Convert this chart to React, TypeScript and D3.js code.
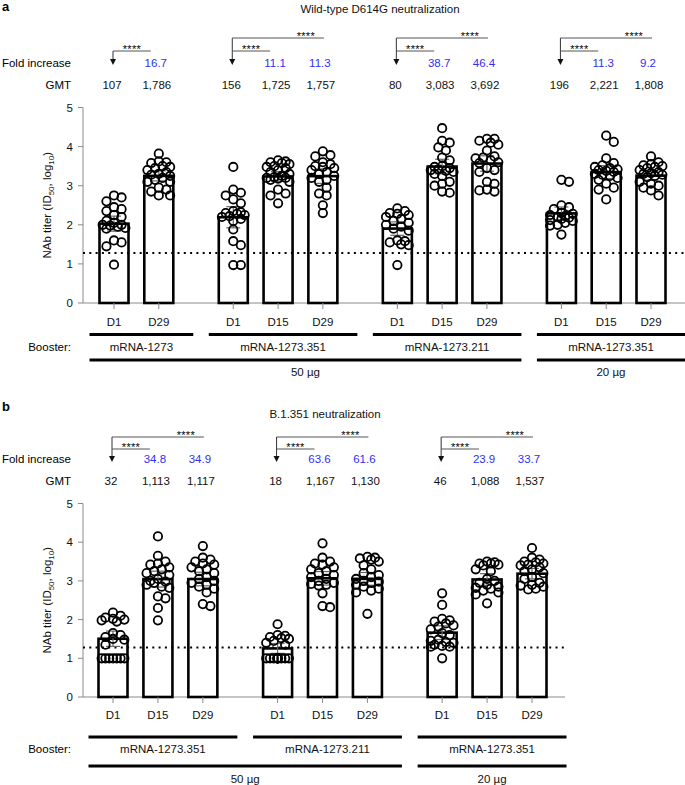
import React from 'react';
import * as d3 from 'd3';

const FONT = "'Liberation Sans', Arial, Helvetica, sans-serif";
const BLUE = '#2f2ff5';
const GREY = '#8a8a8a';

// ---- panel a : wild-type D614G ----
const aGroups = ['mRNA-1273', 'mRNA-1273.351', 'mRNA-1273.211', 'mRNA-1273.351'];
const aDays = [['D1', 'D29'], ['D1', 'D15', 'D29'], ['D1', 'D15', 'D29'], ['D1', 'D15', 'D29']];
const aGMT = [[107, 1786], [156, 1725, 1757], [80, 3083, 3692], [196, 2221, 1808]];
const aFold = [['16.7'], ['11.1', '11.3'], ['38.7', '46.4'], ['11.3', '9.2']];
const aDoseLabels = ['50 µg', '20 µg'];
const aDoseSpans = [[0, 2], [3, 3]];
const aPoints = [
  [2.75, 2.7, 2.6, 2.45, 2.4, 2.35, 2.25, 2.2, 2.1, 2.05, 2.0, 2.0, 1.98, 1.95, 1.92, 1.9, 1.6, 1.55, 1.45, 0.98],
  [3.82, 3.62, 3.6, 3.58, 3.5, 3.48, 3.45, 3.4, 3.35, 3.3, 3.28, 3.25, 3.2, 3.15, 3.1, 3.1, 2.95, 2.9, 2.85, 2.75, 2.75],
  [3.48, 2.9, 2.82, 2.75, 2.65, 2.55, 2.35, 2.32, 2.3, 2.28, 2.25, 2.22, 2.2, 2.15, 2.1, 1.88, 1.58, 1.48, 0.97, 0.97],
  [3.65, 3.62, 3.6, 3.58, 3.55, 3.5, 3.48, 3.45, 3.4, 3.35, 3.3, 3.25, 3.22, 3.2, 3.2, 3.18, 3.15, 3.1, 2.9, 2.8, 2.75, 2.55],
  [3.88, 3.78, 3.75, 3.6, 3.55, 3.5, 3.48, 3.45, 3.4, 3.35, 3.3, 3.25, 3.2, 3.15, 3.1, 2.95, 2.8, 2.75, 2.5, 2.3],
  [2.42, 2.35, 2.3, 2.28, 2.25, 2.2, 2.15, 2.1, 2.05, 2.0, 1.95, 1.9, 1.85, 1.6, 1.58, 1.55, 1.5, 1.48, 0.97],
  [4.47, 4.15, 4.1, 3.98, 3.9, 3.72, 3.65, 3.5, 3.48, 3.45, 3.42, 3.4, 3.38, 3.35, 3.3, 3.25, 3.1, 3.05, 3.0, 2.85, 2.82],
  [4.2, 4.2, 4.15, 4.1, 4.05, 3.9, 3.75, 3.72, 3.7, 3.65, 3.6, 3.58, 3.45, 3.4, 3.35, 3.1, 3.05, 2.9, 2.88, 2.85],
  [3.15, 3.1, 2.5, 2.45, 2.4, 2.3, 2.28, 2.25, 2.22, 2.2, 2.18, 2.15, 2.12, 2.1, 2.05, 2.0, 1.98, 1.75],
  [4.28, 4.12, 3.7, 3.58, 3.52, 3.48, 3.45, 3.42, 3.4, 3.38, 3.35, 3.3, 3.28, 3.25, 3.2, 3.15, 3.05, 2.95, 2.9, 2.65],
  [3.75, 3.6, 3.55, 3.52, 3.5, 3.48, 3.45, 3.4, 3.35, 3.32, 3.3, 3.28, 3.25, 3.22, 3.1, 3.05, 3.0, 2.95, 2.88, 2.75],
];

// ---- panel b : B.1.351 ----
const bGroups = ['mRNA-1273.351', 'mRNA-1273.211', 'mRNA-1273.351'];
const bDays = [['D1', 'D15', 'D29'], ['D1', 'D15', 'D29'], ['D1', 'D15', 'D29']];
const bGMT = [[32, 1113, 1117], [18, 1167, 1130], [46, 1088, 1537]];
const bFold = [['34.8', '34.9'], ['63.6', '61.6'], ['23.9', '33.7']];
const bDoseLabels = ['50 µg', '20 µg'];
const bDoseSpans = [[0, 1], [2, 2]];
const bPoints = [
  [2.18, 2.1, 2.05, 2.02, 2.0, 1.98, 1.95, 1.65, 1.6, 1.55, 1.5, 1.48, 1.35, 1.0, 1.0, 1.0, 1.0, 1.0, 1.0, 1.0],
  [4.15, 3.65, 3.5, 3.45, 3.42, 3.35, 3.3, 3.25, 3.2, 3.15, 3.05, 3.0, 2.98, 2.95, 2.9, 2.85, 2.82, 2.6, 2.55, 2.3, 1.98],
  [3.9, 3.6, 3.55, 3.5, 3.45, 3.42, 3.35, 3.3, 3.25, 3.2, 3.1, 3.05, 3.0, 2.95, 2.9, 2.85, 2.8, 2.7, 2.4, 2.35],
  [1.88, 1.6, 1.58, 1.55, 1.52, 1.5, 1.45, 1.4, 1.35, 1.0, 1.0, 1.0, 1.0, 1.0, 1.0, 1.0, 1.0, 1.0, 1.0, 1.0],
  [3.97, 3.6, 3.5, 3.45, 3.42, 3.35, 3.3, 3.25, 3.2, 3.15, 3.1, 3.05, 3.0, 2.95, 2.92, 2.9, 2.88, 2.68, 2.35, 2.32],
  [3.62, 3.6, 3.58, 3.55, 3.5, 3.4, 3.3, 3.2, 3.15, 3.1, 3.05, 3.0, 2.98, 2.95, 2.9, 2.85, 2.8, 2.75, 2.7, 2.15],
  [2.68, 2.38, 2.02, 1.98, 1.95, 1.9, 1.85, 1.82, 1.75, 1.65, 1.6, 1.48, 1.45, 1.42, 1.4, 1.35, 1.32, 1.3, 1.3, 1.0],
  [3.5, 3.48, 3.45, 3.45, 3.42, 3.4, 3.3, 3.25, 3.05, 3.0, 2.95, 2.9, 2.85, 2.82, 2.8, 2.75, 2.7, 2.65, 2.42],
  [3.85, 3.6, 3.55, 3.5, 3.48, 3.45, 3.42, 3.4, 3.35, 3.3, 3.25, 3.2, 3.1, 3.05, 2.95, 2.9, 2.88, 2.85, 2.8, 2.78],
];

const yTicks = [0, 1, 2, 3, 4, 5];
const LOD = 1.28;

//把点沿水平方向摊开 (simple beeswarm)
function beeswarm(vals: number[], y: (v: number) => number, r: number, maxOff: number) {
  const idx = vals.map((_, i) => i).sort((a, b) => vals[b] - vals[a]);
  const placed: { x: number; y: number }[] = [];
  const out = new Array(vals.length).fill(0);
  const step = r * 0.9;
  const cands = [0];
  for (let k = 1; k * step <= maxOff; k++) cands.push(k * step, -k * step);
  const minD = 2 * r * 0.9;
  idx.forEach(i => {
    const py = y(vals[i]);
    let best = 0;
    let bestScore = -Infinity;
    for (const c of cands) {
      let md = Infinity;
      for (const p of placed) {
        const d = Math.hypot(p.x - c, p.y - py);
        if (d < md) md = d;
      }
      if (md >= minD) { best = c; break; }
      if (md > bestScore) { bestScore = md; best = c; }
    }
    placed.push({ x: best, y: py });
    out[i] = best;
  });
  return out;
}

function Panel(props: any) {
  const p = props;
  const y = d3.scaleLinear().domain([0, 5]).range([p.y0, p.y5]);
  const gapExtra = 0.663;
  // slot of each bar
  let flat = 0;
  const slots: number[][] = p.days.map((ds: string[], gi: number) =>
    ds.map(() => (flat++) + gi * gapExtra));
  const maxSlot = slots[slots.length - 1][slots[slots.length - 1].length - 1];
  const x = d3.scaleLinear().domain([0, maxSlot]).range([p.x0, p.x1]);
  const bw = 29;
  const r = 4.2;

  const bars: any[] = [];
  let k = 0;
  p.days.forEach((ds: string[], gi: number) => {
    ds.forEach((d: string, di: number) => {
      const vals = p.points[k];
      const mean = Math.log10(p.gmt[gi][di]);
      const sd = d3.deviation(vals) || 0;
      const half = 1.96 * sd / Math.sqrt(vals.length);
      bars.push({ cx: x(slots[gi][di]), mean, half, vals, offs: beeswarm(vals, y, r, 14), day: d, gi, di });
      k++;
    });
  });

  const groupExtent = (gi: number) => {
    const first = x(slots[gi][0]) - bw / 2 - 10;
    const last = x(slots[gi][slots[gi].length - 1]) + bw / 2 + 20;
    return [first, Math.min(last, 685)];
  };

  return (
    <g fontFamily={FONT}>
      <text x={2} y={p.letterY} fontSize={13} fontWeight="bold">{p.letter}</text>
      <text x={p.titleX} y={p.titleY} dy="0.35em" fontSize={11.5} textAnchor="middle" fill="#111">{p.title}</text>

      {/* brackets */}
      {p.days.map((ds: string[], gi: number) => {
        const ax = x(slots[gi][0]) - 1;
        const tip = p.arrowY;
        const xs = slots[gi].map((s: number) => x(s));
        const topY = ds.length === 2 ? p.innerY : p.outerY;
        const innerEnd = xs[1] - 8;
        const outerEnd = xs[xs.length - 1] + 1;
        return (
          <g key={'br' + gi}>
            <line x1={ax} x2={ax} y1={topY} y2={tip - 5} stroke="#333" strokeWidth={1} />
            <path d={`M${ax - 3},${tip - 6}L${ax + 3},${tip - 6}L${ax},${tip}Z`} fill="#111" />
            <line x1={ax} x2={innerEnd} y1={p.innerY} y2={p.innerY} stroke="#555" strokeWidth={1} />
            <text x={(ax + innerEnd) / 2} y={p.innerY + 2} fontSize={11} textAnchor="middle" letterSpacing={0.3}>****</text>
            {ds.length > 2 && (
              <g>
                <line x1={ax} x2={outerEnd} y1={p.outerY} y2={p.outerY} stroke="#555" strokeWidth={1} />
                <text x={outerEnd - 18} y={p.outerY + 2} fontSize={11} textAnchor="middle" letterSpacing={0.3}>****</text>
              </g>
            )}
            {p.fold[gi].map((f: string, fi: number) => (
              <text key={fi} x={xs[fi + 1] - 3} y={p.foldY} dy="0.35em" fontSize={11.5} fill={BLUE} textAnchor="middle">{f}</text>
            ))}
            {p.gmt[gi].map((g: number, fi: number) => (
              <text key={'g' + fi} x={xs[fi] - 2} y={p.gmtY} dy="0.35em" fontSize={11.5} fill="#111" textAnchor="middle">{d3.format(',')(g)}</text>
            ))}
          </g>
        );
      })}
      <text x={71} y={p.foldY} dy="0.35em" fontSize={11.5} textAnchor="end">Fold increase</text>
      <text x={71} y={p.gmtY} dy="0.35em" fontSize={11.5} textAnchor="end">GMT</text>

      {/* y axis */}
      <line x1={83} x2={83} y1={p.y5} y2={p.y0} stroke={GREY} strokeWidth={1} />
      {yTicks.map(t => (
        <g key={t}>
          <line x1={78} x2={83} y1={y(t)} y2={y(t)} stroke={GREY} strokeWidth={1} />
          <text x={73} y={y(t)} dy="0.35em" fontSize={11.5} textAnchor="end" fill="#111">{t}</text>
        </g>
      ))}
      <text transform={`translate(51,${(p.y0 + p.y5) / 2}) rotate(-90)`} fontSize={11.5} textAnchor="middle" fill="#111">
        NAb titer (ID<tspan fontSize={8} dy="3">50</tspan><tspan dy="-3">, log</tspan><tspan fontSize={8} dy="3">10</tspan><tspan dy="-3">)</tspan>
      </text>

      {/* x axis */}
      <line x1={83} x2={p.axisEnd} y1={p.y0} y2={p.y0} stroke={GREY} strokeWidth={1} />

      {bars.map((b, i) => (
        <g key={'bar' + i}>
          <rect x={b.cx - bw / 2} y={y(b.mean)} width={bw} height={y(0) - y(b.mean)} fill="#fff" stroke="#000" strokeWidth={2.6} />
        </g>
      ))}
      <line x1={83} x2={p.axisEnd} y1={y(LOD)} y2={y(LOD)} stroke="#000" strokeWidth={2} strokeDasharray="2 4.3" />
      {bars.map((b, i) => (
        <g key={'eb' + i} stroke="#666" strokeWidth={1.2}>
          <line x1={b.cx} x2={b.cx} y1={y(b.mean + b.half)} y2={y(b.mean - b.half)} />
          <line x1={b.cx - 7} x2={b.cx + 7} y1={y(b.mean + b.half)} y2={y(b.mean + b.half)} />
          <line x1={b.cx - 7} x2={b.cx + 7} y1={y(b.mean - b.half)} y2={y(b.mean - b.half)} />
        </g>
      ))}
      {bars.map((b, i) => (
        <g key={'pt' + i}>
          {b.vals.map((v: number, j: number) => (
            <circle key={j} cx={b.cx + b.offs[j]} cy={y(v)} r={r} fill="none" stroke="#000" strokeWidth={1.8} />
          ))}
        </g>
      ))}
      {bars.map((b, i) => (
        <g key={'tk' + i}>
          <line x1={b.cx} x2={b.cx} y1={p.y0} y2={p.y0 + 6} stroke={GREY} strokeWidth={1} />
          <text x={b.cx} y={p.dayY} dy="0.35em" fontSize={11.5} textAnchor="middle" fill="#111">{b.day}</text>
        </g>
      ))}

      {/* booster groups */}
      <text x={71} y={p.boosterY} dy="0.35em" fontSize={11.5} textAnchor="end">Booster:</text>
      {p.groups.map((g: string, gi: number) => {
        const [a, b] = groupExtent(gi);
        return (
          <g key={'grp' + gi}>
            <line x1={a} x2={b} y1={p.line1Y} y2={p.line1Y} stroke="#000" strokeWidth={3} />
            <text x={(a + b) / 2} y={p.boosterY} dy="0.35em" fontSize={11.5} textAnchor="middle" fill="#111">{g}</text>
          </g>
        );
      })}
      {p.doseLabels.map((lab: string, di: number) => {
        const a = groupExtent(p.doseSpans[di][0])[0];
        const b = groupExtent(p.doseSpans[di][1])[1];
        return (
          <g key={'dose' + di}>
            <line x1={a} x2={b} y1={p.line2Y} y2={p.line2Y} stroke="#000" strokeWidth={3} />
            <text x={(a + b) / 2} y={p.doseY} dy="0.35em" fontSize={11.5} textAnchor="middle" fill="#111">{lab}</text>
          </g>
        );
      })}
    </g>
  );
}

export default function App() {
  return (
    <svg width={685} height={785} style={{ position: 'absolute', left: 0, top: 0, background: '#fff' }}>
      <Panel letter="a" letterY={11} title="Wild-type D614G neutralization" titleX={380} titleY={9}
        groups={aGroups} days={aDays} gmt={aGMT} fold={aFold} points={aPoints}
        doseLabels={aDoseLabels} doseSpans={aDoseSpans}
        outerY={38} innerY={51} arrowY={65} foldY={63} gmtY={85}
        y5={107.5} y0={303} x0={114} x1={651} axisEnd={685}
        dayY={322} line1Y={334.5} boosterY={347} line2Y={360} doseY={372} />
      <Panel letter="b" letterY={411} title="B.1.351 neutralization" titleX={325} titleY={414}
        groups={bGroups} days={bDays} gmt={bGMT} fold={bFold} points={bPoints}
        doseLabels={bDoseLabels} doseSpans={bDoseSpans}
        outerY={437} innerY={449} arrowY={462} foldY={459} gmtY={481}
        y5={503.5} y0={697} x0={113} x1={532} axisEnd={565}
        dayY={715} line1Y={737} boosterY={749} line2Y={766} doseY={779} />
    </svg>
  );
}
